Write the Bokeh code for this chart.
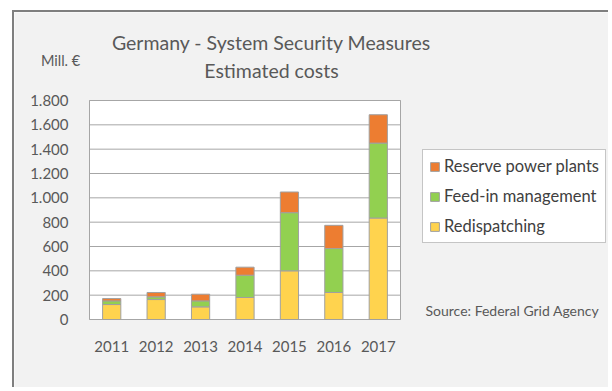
from bokeh.plotting import figure
from bokeh.models import (ColumnDataSource, Range1d, Legend, LegendItem, Label,
                          FixedTicker, BoxAnnotation)
from bokeh.embed import file_html
from bokeh.resources import INLINE

# ---- data ----
years = ["2011", "2012", "2013", "2014", "2015", "2016", "2017"]
redispatching = [123, 164, 104, 181, 400, 222, 834]
feed_in = [30, 22, 49, 183, 478, 361, 616]
reserve = [19, 36, 55, 66, 170, 191, 233]
series_names = ["Redispatching", "Feed-in management", "Reserve power plants"]
colors = ["#FFD34E", "#92D050", "#ED7D31"]
y_ticks = [0, 200, 400, 600, 800, 1000, 1200, 1400, 1600, 1800]
y_tick_labels = ["0", "200", "400", "600", "800", "1.000", "1.200", "1.400", "1.600", "1.800"]

FONT = "Lato"
TXT = "#595959"

# ---- layout (pixels in page coordinates) ----
OX, OY = 14, 12            # canvas origin on the page (after margin + border)
W, H = 596, 377            # canvas size
PL, PR, PT, PB = 89, 400, 100, 319   # plot area on the page
n = len(years)
ymax = y_ticks[-1]
ux = n / (PR - PL)
uy = ymax / (PB - PT)
x_rng = Range1d(0 - (PL - OX) * ux, n + (OX + W - PR) * ux)
y_rng = Range1d(0 - (OY + H - PB) * uy, ymax + (PT - OY) * uy)

def sx(px):  # page x -> frame screen x
    return px - OX

def sy(py):  # page y -> frame screen y (from bottom)
    return OY + H - py

centers = [i + 0.5 for i in range(n)]
source = ColumnDataSource(dict(x=centers, year=years, red=redispatching,
                               feed=feed_in, res=reserve))

p = figure(x_range=x_rng, y_range=y_rng, width=W, height=H,
           output_backend="svg", toolbar_location=None, min_border=0)
p.title.visible = False
p.styles = {"margin-left": f"{OX - 2}px", "margin-top": f"{OY - 2}px",
            "border-top": "2px solid #7f7f7f", "border-left": "2px solid #7f7f7f"}
p.background_fill_color = "#f2f2f2"
p.border_fill_color = "#f2f2f2"
p.outline_line_color = None
p.xgrid.grid_line_color = None
p.ygrid.grid_line_color = None

# plot area
p.add_layout(BoxAnnotation(left=0, right=n, bottom=y_ticks[0], top=ymax,
                           fill_color="white", fill_alpha=1.0,
                           line_color="#a6a6a6", line_width=1, line_alpha=1.0,
                           level="underlay"))
# horizontal grid lines
p.segment(x0=[0] * len(y_ticks), x1=[n] * len(y_ticks), y0=y_ticks, y1=y_ticks,
          line_color="#a6a6a6", line_width=1)

renderers = p.vbar_stack(["red", "feed", "res"], x="x", width=0.41, color=colors,
                         line_color="#a0a0a0", line_width=1, source=source)

# axes fixed at the plot-area edges
p.yaxis.fixed_location = 0
p.xaxis.fixed_location = 0
p.yaxis.ticker = FixedTicker(ticks=y_ticks)
p.yaxis.major_label_overrides = {t: l for t, l in zip(y_ticks, y_tick_labels)}
p.xaxis.ticker = FixedTicker(ticks=centers)
p.xaxis.major_label_overrides = {c: y for c, y in zip(centers, years)}
for ax in (p.xaxis[0], p.yaxis[0]):
    ax.axis_line_color = None
    ax.major_tick_line_color = None
    ax.minor_tick_line_color = None
    ax.major_label_text_font = FONT
    ax.major_label_text_font_size = "15px"
    ax.major_label_text_color = TXT
p.yaxis.major_label_standoff = 15
p.xaxis.major_label_standoff = 15

# texts
def label(text, px, py, size, align="center"):
    p.add_layout(Label(x=sx(px), y=sy(py), x_units="screen", y_units="screen",
                       text=text, text_font=FONT, text_font_size=size,
                       text_color=TXT, text_align=align, text_baseline="middle"))

label("Germany - System Security Measures", 271, 42, "19.5px")
label("Estimated costs", 271, 70, "19.5px")
label("Mill. €", 60, 60, "14.5px")
label("Source: Federal Grid Agency", 425, 310, "14px", align="left")

# legend
items = [LegendItem(label=series_names[i], renderers=[renderers[i]]) for i in (2, 1, 0)]
legend = Legend(items=items, location=(sx(422), sy(243)), orientation="vertical", margin=0,
                label_text_font=FONT, label_text_font_size="16.5px", label_text_color="#404040",
                glyph_width=11, glyph_height=11, label_standoff=4, padding=6, spacing=10,
                label_height=20, border_line_color="#8c8c8c", border_line_width=1,
                background_fill_color="white", background_fill_alpha=1.0)
p.add_layout(legend, "center")

open("out.html", "w").write(file_html(p, INLINE))
